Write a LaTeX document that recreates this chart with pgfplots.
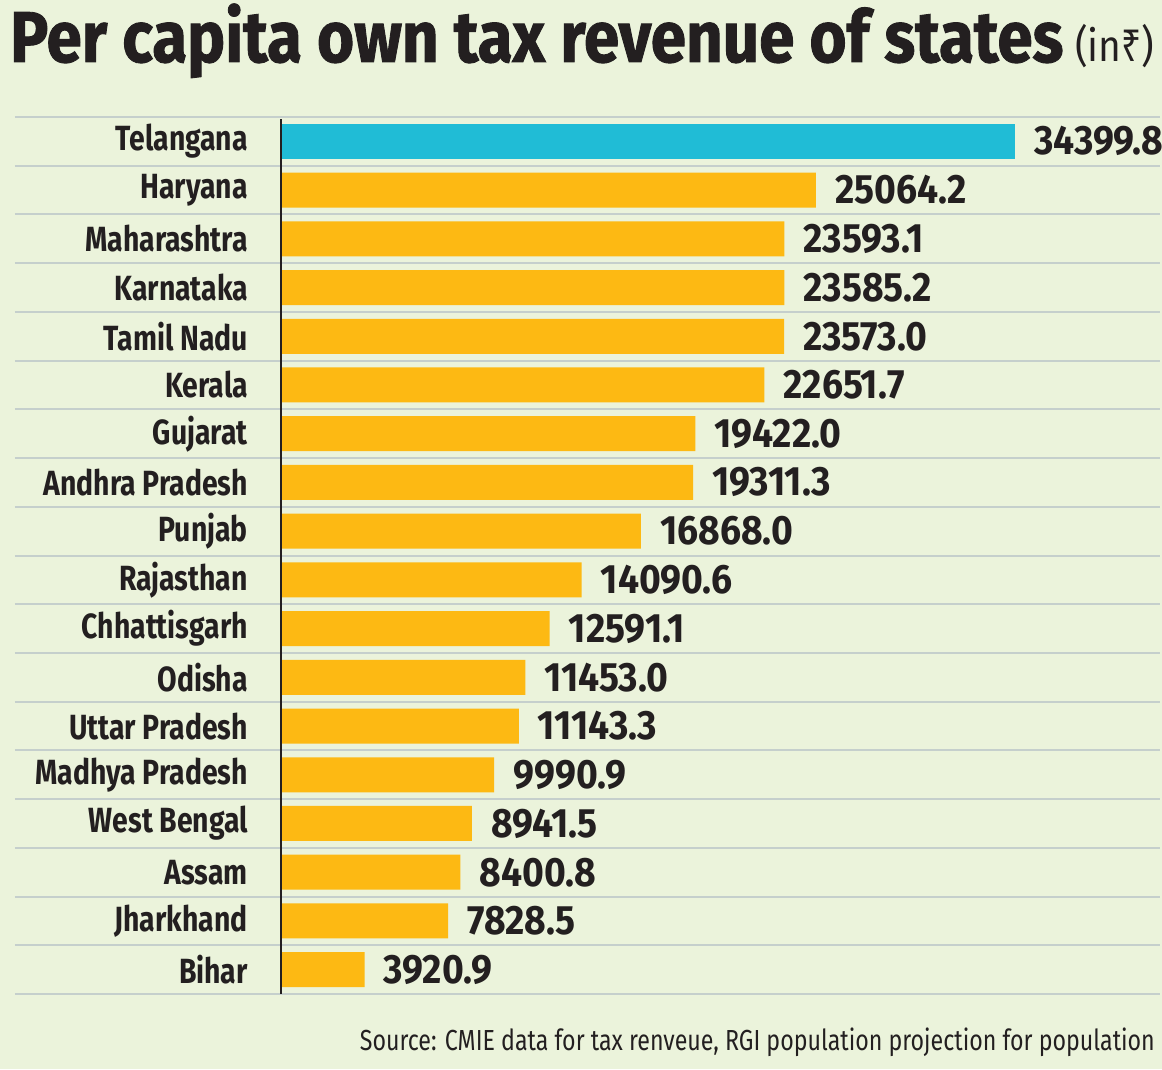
\documentclass[border=0pt]{standalone}
\usepackage{fontspec}
\setmainfont{Fira Sans}[FakeStretch=0.80]
\newfontfamily\titlefont{Fira Sans}[FakeStretch=0.885, BoldFeatures={FakeBold=1.2}]
\newfontfamily\namefont{Fira Sans}[FakeStretch=0.81]
\newfontfamily\valuefont{Fira Sans}[FakeStretch=0.91]
\newfontfamily\rupeefont{Noto Sans}[FakeStretch=0.80]
\usepackage{pgfplots}
\usepackage{pgfplotstable}
\pgfplotsset{compat=1.18}

\definecolor{bg}{HTML}{EBF3DB}
\definecolor{barorange}{HTML}{FDB913}
\definecolor{barcyan}{HTML}{20BCD6}
\definecolor{gridc}{HTML}{C5CFCC}
\definecolor{ink}{HTML}{231F20}

% per capita own tax revenue, rupees
\pgfplotstableread{
idx value label
0 34399.8 34399.8
}\toptable
\pgfplotstableread{
idx value label
1 25064.2 25064.2
2 23593.1 23593.1
3 23585.2 23585.2
4 23573.0 23573.0
5 22651.7 22651.7
6 19422.0 19422.0
7 19311.3 19311.3
8 16868.0 16868.0
9 14090.6 14090.6
10 12591.1 12591.1
11 11453.0 11453.0
12 11143.3 11143.3
13 9990.9 9990.9
14 8941.5 8941.5
15 8400.8 8400.8
16 7828.5 7828.5
17 3920.9 3920.9
}\resttable

\begin{document}
\begin{tikzpicture}[x=1pt,y=1pt]
\fill[bg] (-281,-75) rectangle (881,994);
\useasboundingbox (-281,-75) rectangle (881,994);

\node[anchor=base west, inner sep=0pt, text=ink] at (-271,932)
  {\titlefont\fontsize{72}{72}\selectfont\bfseries Per capita own tax revenue of states\hspace{12pt}{\mdseries\fontsize{44}{44}\selectfont(in{\rupeefont ₹})}};

\node[anchor=base east, inner sep=0pt, text=ink] at (874,-56)
  {\fontsize{29}{29}\selectfont Source: CMIE data for tax renveue, RGI population projection for population};

\begin{axis}[
  at={(0,0)}, anchor=south west,
  scale only axis, width=879pt, height=877pt,
  xmin=0, xmax=41190, ymin=-0.5, ymax=17.5,
  y dir=reverse,
  xbar, bar width=35pt, bar shift=0pt,
  axis line style={draw=none},
  xtick=\empty,
  ytick={0,...,17},
  yticklabels={Telangana,Haryana,Maharashtra,Karnataka,Tamil Nadu,Kerala,Gujarat,Andhra Pradesh,Punjab,Rajasthan,Chhattisgarh,Odisha,Uttar Pradesh,Madhya Pradesh,West Bengal,Assam,Jharkhand,Bihar},
  major tick length=0pt,
  yticklabel style={font=\namefont\fontsize{35}{35}\selectfont\bfseries, text=ink, anchor=east, inner sep=0pt, xshift=-33pt},
  clip=false,
  point meta=explicit symbolic,
  nodes near coords={\pgfplotspointmeta},
  every node near coord/.append style={font=\valuefont\fontsize{41}{41}\selectfont\bfseries, text=ink, anchor=west, inner sep=0pt, xshift=19pt},
]
\pgfplotsinvokeforeach{-0.5,0.5,...,17.5}{
  \draw[gridc, line width=2pt] ([xshift=-266pt]axis cs:0,#1) -- (axis cs:41190,#1);
}
\addplot[fill=barcyan, draw=none] table[x=value, y=idx, meta=label] {\toptable};
\addplot[fill=barorange, draw=none] table[x=value, y=idx, meta=label] {\resttable};
\draw[ink, line width=2pt] (axis cs:0,-0.45) -- (axis cs:0,17.5);
\end{axis}
\end{tikzpicture}
\end{document}
